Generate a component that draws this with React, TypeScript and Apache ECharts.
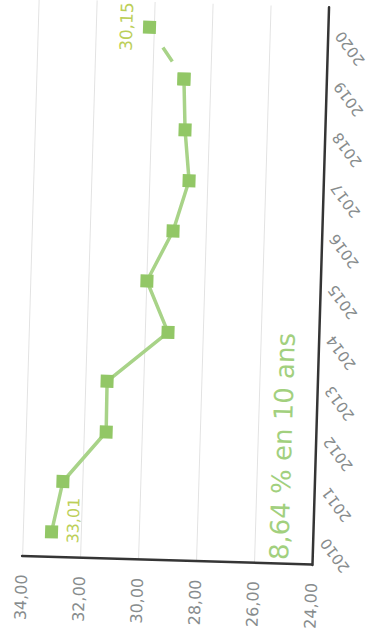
import { useEffect, useRef } from 'react';
import * as echarts from 'echarts';

// Years on the category axis
const years = ['2010', '2011', '2012', '2013', '2014', '2015', '2016', '2017', '2018', '2019', '2020'];
// Yearly values
const values = [33.01, 32.67, 31.23, 31.25, 29.2, 29.98, 29.13, 28.63, 28.82, 28.91, 30.15];
// Value axis range and step
const axisMin = 24;
const axisMax = 34;
const axisStep = 2;
// Annotation text
const note = '8,64 % en 10 ans';

const frFormat = (v: number) => v.toFixed(2).replace('.', ',');

const GREEN_MARK = '#92c766';
const GREEN_LINE = '#a8d388';
const LABEL_GREEN = '#bccf58';
const AXIS_GREY = '#878c8d';

export default function App() {
  const ref = useRef<HTMLDivElement>(null);

  useEffect(() => {
    if (!ref.current) return;
    const chart = echarts.init(ref.current, null, { renderer: 'svg' });
    const last = values.length - 1;

    // Solid line 2010-2019, dashed segment 2019-2020
    const solidData = values.map((v, i) => {
      if (i === last) return null;
      if (i === 0) {
        return {
          value: v,
          label: {
            show: true,
            position: 'bottom',
            distance: 7,
            offset: [12, 0],
            formatter: () => frFormat(v),
            color: LABEL_GREEN,
            fontSize: 16,
            fontFamily: 'DejaVu Sans',
          },
        };
      }
      return v;
    });
    const dashedData = values.map((v, i) => {
      if (i < last - 1) return null;
      if (i === last) {
        return {
          value: v,
          label: {
            show: true,
            position: 'top',
            distance: 8,
            formatter: () => frFormat(v),
            color: LABEL_GREEN,
            fontSize: 17,
            fontFamily: 'DejaVu Sans',
          },
        };
      }
      return v;
    });

    chart.setOption({
      animation: false,
      backgroundColor: '#ffffff',
      grid: { left: 70, top: 40, width: 558, height: 290 },
      xAxis: {
        type: 'category',
        data: years,
        boundaryGap: true,
        axisLine: { show: true, lineStyle: { color: '#353535', width: 2.5 } },
        axisTick: { show: false },
        axisLabel: {
          rotate: 38,
          margin: 11,
          color: AXIS_GREY,
          fontSize: 15,
          fontFamily: 'DejaVu Sans',
          interval: 0,
        },
        splitLine: { show: false },
      },
      yAxis: {
        type: 'value',
        min: axisMin,
        max: axisMax,
        interval: axisStep,
        axisLine: { show: true, lineStyle: { color: '#353535', width: 2.5 } },
        axisTick: { show: false },
        axisLabel: {
          margin: 18,
          color: AXIS_GREY,
          fontSize: 16,
          fontFamily: 'DejaVu Sans',
          formatter: (v: number) => frFormat(v),
        },
        splitLine: { show: true, lineStyle: { color: '#e3e3e3', width: 1 } },
      },
      graphic: [
        {
          type: 'text',
          x: 74,
          y: 297,
          style: {
            text: note,
            fill: '#a2d07e',
            font: '26px "DejaVu Sans"',
            textVerticalAlign: 'middle',
          },
        },
      ],
      series: [
        {
          type: 'line',
          data: solidData,
          symbol: 'rect',
          symbolSize: 13,
          lineStyle: { color: GREEN_LINE, width: 3.5 },
          itemStyle: { color: GREEN_MARK },
          z: 3,
        },
        {
          type: 'line',
          data: dashedData,
          symbol: 'rect',
          symbolSize: 13,
          lineStyle: { color: GREEN_LINE, width: 3.5, type: [17, 21], dashOffset: 17 },
          itemStyle: { color: GREEN_MARK },
          z: 2,
        },
      ],
    });

    return () => chart.dispose();
  }, []);

  return (
    <div
      style={{
        position: 'fixed',
        left: 0,
        top: 0,
        width: 370,
        height: 634,
        overflow: 'hidden',
        background: '#ffffff',
      }}
    >
      <div
        ref={ref}
        style={{
          position: 'absolute',
          left: 0,
          top: 0,
          width: 640,
          height: 392,
          transformOrigin: '0 0',
          transform: 'translate(-19.95px, 625.17px) rotate(-88.3deg)',
        }}
      />
    </div>
  );
}
